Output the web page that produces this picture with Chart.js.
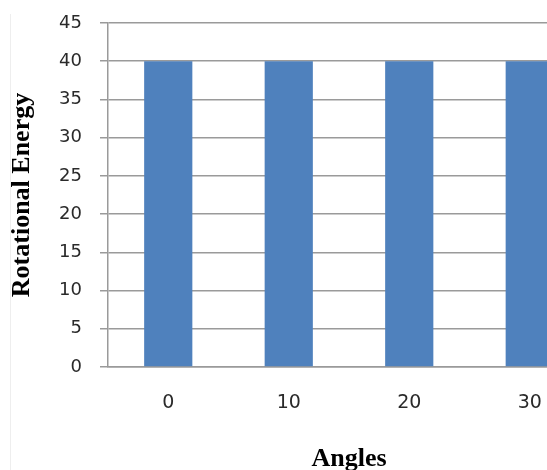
<!DOCTYPE html>
<html>
<head>
<meta charset="utf-8">
<script src="https://cdn.jsdelivr.net/npm/chart.js@4"></script>
<style>
  html, body { margin: 0; padding: 0; background: #fff; overflow: hidden; }
  #wrap { position: relative; width: 600px; height: 470px; }
</style>
</head>
<body>
<div id="wrap"><canvas id="c"></canvas></div>
<script>
// Rotational energy at each launch angle
const angles = ['0', '10', '20', '30'];
const rotationalEnergy = [40, 40, 40, 40];
const yTicks = [0, 5, 10, 15, 20, 25, 30, 35, 40, 45];

const gridGrey = '#9a9a9a';
const yTickFont = { family: '"DejaVu Sans", "Open Sans", sans-serif', size: 18 };
const xTickFont = { family: '"DejaVu Sans", "Open Sans", sans-serif', size: 19 };
const titleFont = { family: '"Liberation Serif", "Times New Roman", serif', size: 26, weight: 'bold' };

// faint outer frame line on the left edge of the chart object
const framePlugin = {
  id: 'frame',
  beforeDraw(chart) {
    const ctx = chart.ctx;
    ctx.save();
    ctx.strokeStyle = '#eeeeee';
    ctx.lineWidth = 1;
    ctx.beginPath();
    ctx.moveTo(10.5, 14);
    ctx.lineTo(10.5, 470);
    ctx.stroke();
    ctx.restore();
  }
};

new Chart(document.getElementById('c'), {
  type: 'bar',
  data: {
    labels: angles,
    datasets: [{
      data: rotationalEnergy,
      backgroundColor: '#4F81BD',
      borderWidth: 0,
      categoryPercentage: 1,
      barPercentage: 0.4
    }]
  },
  options: {
    responsive: true,
    maintainAspectRatio: false,
    animation: false,
    devicePixelRatio: 1,
    layout: { padding: { top: 23, right: 10, bottom: 0, left: 0 } },
    plugins: { legend: { display: false }, tooltip: { enabled: false } },
    scales: {
      x: {
        grid: { display: false, drawTicks: false },
        border: { display: true, color: gridGrey, width: 1.5 },
        ticks: { color: '#2a2a2a', font: xTickFont, padding: 25 },
        title: { display: true, text: 'Angles', color: '#000', font: titleFont, padding: { top: 0, bottom: -5 } },
        afterFit(scale) { scale.height = 103; scale.paddingLeft = 0; scale.paddingRight = 0; }
      },
      y: {
        min: 0,
        max: 45,
        afterBuildTicks(scale) { scale.ticks = yTicks.map(v => ({ value: v })); },
        grid: { color: gridGrey, lineWidth: 1.5, tickLength: 8, drawTicks: true },
        border: { display: true, color: gridGrey, width: 1.5 },
        ticks: { color: '#2a2a2a', font: yTickFont, padding: 18 },
        title: { display: true, text: 'Rotational Energy', color: '#000', font: titleFont, padding: { top: 6.5, bottom: 0 } },
        afterFit(scale) { scale.width = 108; scale.paddingTop = 0; scale.paddingBottom = 0; }
      }
    }
  },
  plugins: [framePlugin]
});
</script>
</body>
</html>
